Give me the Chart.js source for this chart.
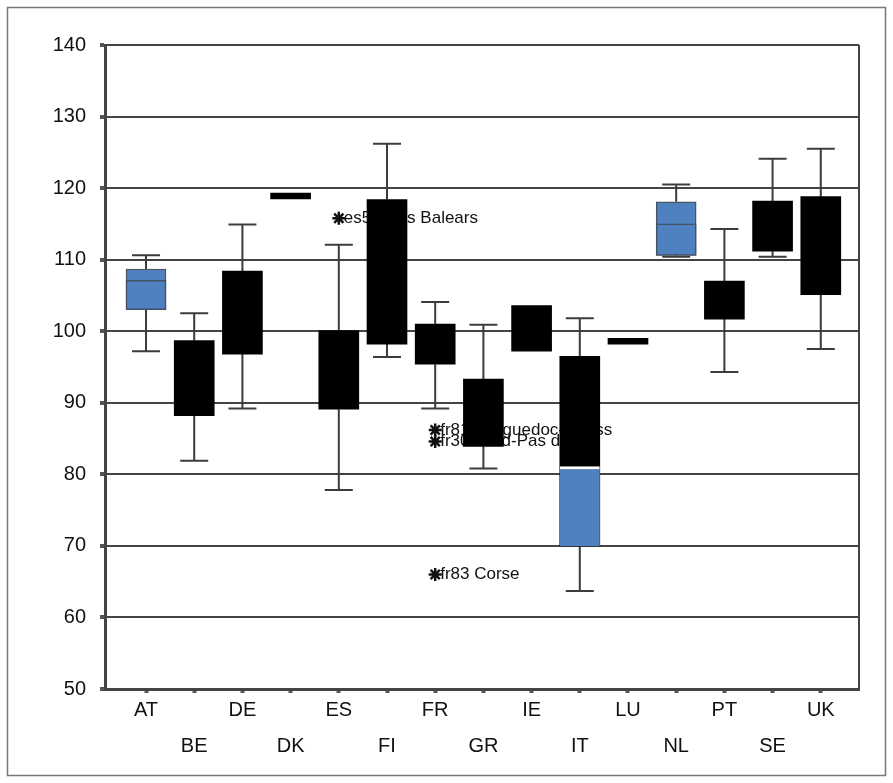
<!DOCTYPE html>
<html>
<head>
<meta charset="utf-8">
<script src="https://cdn.jsdelivr.net/npm/chart.js@4/dist/chart.umd.min.js"></script>
<style>
  html, body { margin: 0; padding: 0; background: #fff; }
  #wrap { width: 893px; height: 783px; }
</style>
</head>
<body>
<div id="wrap"><canvas id="myChart" width="893" height="783"></canvas></div>
<script>
// regions per country: whisker low, box q1, median, q3, whisker high
var cats      = ["AT","BE","DE","DK","ES","FI","FR","GR","IE","IT","LU","NL","PT","SE","UK"];
var whiskLow  = [97.2, 81.9, 89.2, 118.5, 77.8, 96.4, 89.2, 80.8, 97.2, 63.7, 98.2, 110.4, 94.3, 110.4, 97.5];
var q1        = [103.0, 88.2, 96.8, 118.5, 89.1, 98.2, 95.4, 83.9, 97.2, 70.0, 98.2, 110.6, 101.7, 111.2, 105.1];
var median    = [107.1, 93.0, 102.0, 118.9, 95.0, 108.0, 98.0, 88.0, 100.0, 81.1, 98.6, 115.0, 104.0, 115.0, 112.0];
var q3        = [108.7, 98.7, 108.4, 119.3, 100.1, 118.4, 101.0, 93.3, 103.6, 96.5, 99.0, 118.1, 107.0, 118.2, 118.8];
var whiskHigh = [110.6, 102.5, 114.9, 119.3, 112.1, 126.2, 104.1, 100.9, 103.6, 101.8, 99.0, 120.5, 114.3, 124.1, 125.5];

// outlying regions
var outCats   = ["ES", "FR", "FR", "FR"];
var outVals   = [115.8, 86.2, 84.6, 66.0];
var outLabels = ["es53 Illes Balears", "fr81 Languedoc-Rouss", "fr30 Nord-Pas de Ca", "fr83 Corse"];

var yTicks = [50, 60, 70, 80, 90, 100, 110, 120, 130, 140];

var BLUE = "#4f80c0";
var lowerColors = ["blue","black","black","black","black","black","black","black","black","blue","black","blue","black","black","black"];
var upperColors = ["blue","black","black","black","black","black","black","black","black","black","black","blue","black","black","black"];

function fillOf(name) { return name === "blue" ? BLUE : "#000"; }

var FONT = '"Liberation Sans", Arial, sans-serif';

var frame = {
  id: "frame",
  beforeDraw: function(chart) {
    var c = chart.ctx;
    c.save();
    c.fillStyle = "#fff";
    c.fillRect(0, 0, chart.width, chart.height);
    c.strokeStyle = "#777";
    c.lineWidth = 1.5;
    c.strokeRect(7.5, 7.5, 878, 768);
    c.restore();
  },
  beforeDatasetsDraw: function(chart) {
    var c = chart.ctx, x = chart.scales.x, y = chart.scales.y;
    c.save();
    // labels of outliers sit under the boxes
    c.font = "17px " + FONT;
    c.fillStyle = "#111";
    c.textBaseline = "middle";
    outCats.forEach(function(cat, k) {
      c.fillText(outLabels[k], x.getPixelForValue(cats.indexOf(cat)) + 5, y.getPixelForValue(outVals[k]));
    });
    // whiskers
    c.strokeStyle = "#3c3c3c";
    c.lineWidth = 2;
    cats.forEach(function(cat, i) {
      var px = x.getPixelForValue(i);
      [[whiskLow[i], q1[i]], [whiskHigh[i], q3[i]]].forEach(function(p) {
        if (Math.abs(p[0] - p[1]) < 0.05) return;
        var wy = y.getPixelForValue(p[0]), by = y.getPixelForValue(p[1]);
        c.beginPath();
        c.moveTo(px, wy); c.lineTo(px, by);
        c.moveTo(px - 14, wy); c.lineTo(px + 14, wy);
        c.stroke();
      });
    });
    c.restore();
  },
  afterDraw: function(chart) {
    var c = chart.ctx, a = chart.chartArea;
    c.save();
    c.strokeStyle = "#444";
    c.lineWidth = 2;
    c.beginPath();
    c.moveTo(a.right, a.top);
    c.lineTo(a.right, a.bottom);
    c.stroke();
    c.restore();
  }
};

new Chart("myChart", {
  type: "bar",
  data: {
    datasets: [
      {
        type: "scatter",
        data: outCats.map(function(c, k) { return {x: cats.indexOf(c), y: outVals[k]}; }),
        pointStyle: "star",
        radius: 6.5,
        borderWidth: 2.5,
        borderColor: "#111",
        backgroundColor: "#111"
      },
      {
        // lower half of each box, q1 to median (only visible where it differs)
        data: cats.map(function(c, i) { return {x: i, y: [q1[i], median[i]]}; }),
        backgroundColor: cats.map(function(c, i) {
          return (lowerColors[i] === "black" && upperColors[i] === "black") ? "rgba(0,0,0,0)" : fillOf(lowerColors[i]);
        }),
        borderWidth: cats.map(function(c, i) {
          if (lowerColors[i] === "blue" && upperColors[i] === "blue") return 1.5;
          if (lowerColors[i] !== upperColors[i]) return {top: 3, left: 0, right: 0, bottom: 0};
          return 0;
        }),
        borderColor: cats.map(function(c, i) { return lowerColors[i] === upperColors[i] ? "#445064" : "#fff"; }),
        borderSkipped: false,
        barThickness: 40,
        grouped: false
      },
      {
        // whole box, q1 to q3
        data: cats.map(function(c, i) { return {x: i, y: [q1[i], q3[i]]}; }),
        backgroundColor: upperColors.map(fillOf),
        borderWidth: cats.map(function(c, i) { return upperColors[i] === "blue" ? 1.5 : 0; }),
        borderColor: "#4a5563",
        borderSkipped: false,
        barThickness: 40,
        grouped: false
      }
    ]
  },
  options: {
    responsive: false,
    animation: false,
    layout: {padding: {top: 45, right: 34, left: 0, bottom: 0}},
    plugins: {legend: {display: false}, tooltip: {enabled: false}},
    scales: {
      x: {
        type: "linear",
        offset: false,
        min: -0.851,
        max: 14.793,
        afterBuildTicks: function(s) { s.ticks = cats.map(function(c, i) { return {value: i}; }); },
        afterFit: function(s) { s.height = 94; },
        grid: {offset: false, drawOnChartArea: false, drawTicks: true, tickLength: 4, tickWidth: 4, tickColor: "#555"},
        border: {color: "#444", width: 3},
        ticks: {
          padding: 0,
          maxRotation: 0,
          autoSkip: false,
          color: "#111",
          font: {family: FONT, size: 20, lineHeight: 1.78},
          callback: function(v, i) { return i % 2 ? ["", cats[i]] : cats[i]; }
        }
      },
      y: {
        min: 50,
        max: 140,
        afterBuildTicks: function(s) { s.ticks = yTicks.map(function(v) { return {value: v}; }); },
        afterFit: function(s) { s.width = 105; },
        grid: {color: "#444", lineWidth: 2, tickLength: 5, tickWidth: 4, tickColor: "#555"},
        border: {color: "#444", width: 3},
        ticks: {
          padding: 14,
          color: "#111",
          font: {family: FONT, size: 20}
        }
      }
    }
  },
  plugins: [frame]
});
</script>
</body>
</html>
